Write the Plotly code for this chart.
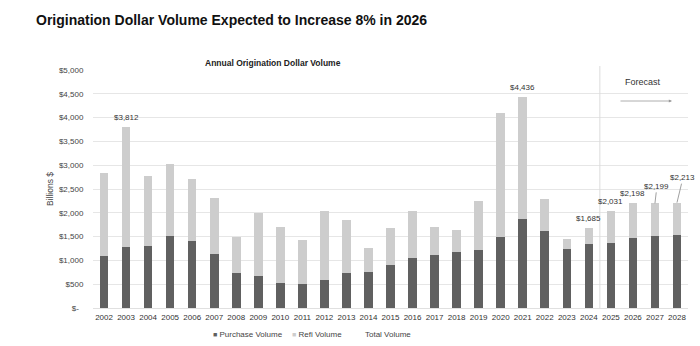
import plotly.graph_objects as go

years = [str(y) for y in range(2002, 2029)]
purchase = [1091, 1273, 1300, 1510, 1399, 1133, 727, 664, 524, 503, 594, 734, 762, 902,
            1049, 1105, 1182, 1217, 1483, 1860, 1615, 1238, 1336, 1357, 1462, 1503, 1538]
refi = [1755, 2539, 1469, 1511, 1321, 1175, 770, 1322, 1168, 931, 1448, 1105, 490, 769,
        993, 594, 461, 1028, 2615, 2576, 685, 217, 349, 674, 736, 696, 675]
total = [2846, 3812, 2769, 3021, 2720, 2308, 1497, 1986, 1692, 1434, 2042, 1839, 1252, 1671,
         2042, 1699, 1643, 2245, 4098, 4436, 2300, 1455, 1685, 2031, 2198, 2199, 2213]
label_years = ["2003", "2021", "2024", "2025", "2026", "2027", "2028"]
y_ticks = [0, 500, 1000, 1500, 2000, 2500, 3000, 3500, 4000, 4500, 5000]
y_ticktext = ["$-  "] + ["${:,}".format(v) for v in y_ticks[1:]]
legend_names = ["Purchase Volume", "Refi Volume", "Total Volume"]

FONT = "Liberation Sans, Arial, sans-serif"
DARK = "#606060"
LIGHT = "#cdcdcd"
L, R, T, B, W, H = 93, 12, 70, 38, 700, 346
PW, PH = W - L - R, H - T - B


def px(x):
    return (x - L) / PW


def py(y):
    return (H - B - y) / PH


fig = go.Figure()
fig.add_bar(x=years, y=purchase, name=legend_names[0], marker_color=DARK,
            marker_line_width=0)
fig.add_bar(x=years, y=refi, name=legend_names[1], marker_color=LIGHT,
            marker_line_width=0)

# value labels
offsets = {"2027": (2, -17), "2028": (6, -25)}
for yr in label_years:
    i = years.index(yr)
    v = total[i]
    txt = "${:,}".format(v)
    if yr in offsets:
        ax, ay = offsets[yr]
        fig.add_annotation(x=i, y=v, text=txt, showarrow=True, arrowhead=0,
                           arrowwidth=0.8, arrowcolor="#888", ax=ax, ay=ay,
                           standoff=0, font=dict(size=8, color="#333", family=FONT))
    else:
        fig.add_annotation(x=i, y=v, text=txt, showarrow=False, yanchor="bottom",
                           yshift=3, font=dict(size=8, color="#333", family=FONT))

# forecast divider
fx = years.index("2025") - 0.5
fig.add_shape(type="line", xref="x", yref="paper", x0=fx, x1=fx, y0=0, y1=py(66),
              line=dict(color="#dcdcdc", width=1))
fig.add_annotation(xref="paper", yref="paper", x=px(643), y=py(82), text="Forecast",
                   xanchor="center", yanchor="middle",
                   showarrow=False, font=dict(size=9, color="#333", family=FONT))
fig.add_annotation(xref="paper", yref="paper", x=px(672), y=py(101), text="",
                   showarrow=True, arrowhead=2, arrowsize=0.8, arrowwidth=0.8,
                   arrowcolor="#999", ax=-53, ay=0)

# subtitle
fig.add_annotation(xref="paper", yref="paper", x=px(273), y=py(63),
                   xanchor="center", yanchor="middle",
                   text="<b>Annual Origination Dollar Volume</b>",
                   showarrow=False, font=dict(size=8.5, color="#222", family=FONT))

# legend (as text)
leg_items = [
    (211, "<span style='color:%s;font-size:7px'>■</span> %s" % (DARK, legend_names[0])),
    (290, "<span style='color:%s;font-size:7px'>■</span> %s" % (LIGHT, legend_names[1])),
    (363, legend_names[2]),
]
for lx, txt in leg_items:
    fig.add_annotation(xref="paper", yref="paper", x=px(lx), y=py(334), text=txt,
                       xanchor="left", yanchor="middle", showarrow=False,
                       font=dict(size=8, color="#444", family=FONT))

fig.update_layout(
    width=W, height=H,
    barmode="stack", bargap=0.61,
    plot_bgcolor="white", paper_bgcolor="white",
    margin=dict(l=L, r=R, t=T, b=B),
    font=dict(family=FONT, size=8, color="#444"),
    title=dict(text="<b>Origination Dollar Volume Expected to Increase 8% in 2026</b>",
               xref="container", yref="container", x=36 / W, xanchor="left",
               y=1 - 20 / H, yanchor="middle",
               font=dict(size=14, color="#111", family=FONT)),
    showlegend=False,
)
fig.update_xaxes(type="category", categoryorder="array", categoryarray=years,
                 range=[-0.5, len(years) - 0.5], showgrid=False, showline=False,
                 ticks="outside", ticklen=1, tickcolor="rgba(0,0,0,0)",
                 tickfont=dict(size=8, color="#333"), tickangle=0)
fig.update_yaxes(range=[0, 5000], tickvals=y_ticks, ticktext=y_ticktext,
                 showgrid=True, gridcolor="#e6e6e6", gridwidth=1, zeroline=True,
                 zerolinecolor="#e0e0e0", zerolinewidth=1,
                 ticks="outside", ticklen=7, tickcolor="rgba(0,0,0,0)",
                 tickfont=dict(size=8, color="#444"),
                 title=dict(text="Billions $", standoff=3, font=dict(size=8.5, color="#444")))

fig.write_html("out.html")
